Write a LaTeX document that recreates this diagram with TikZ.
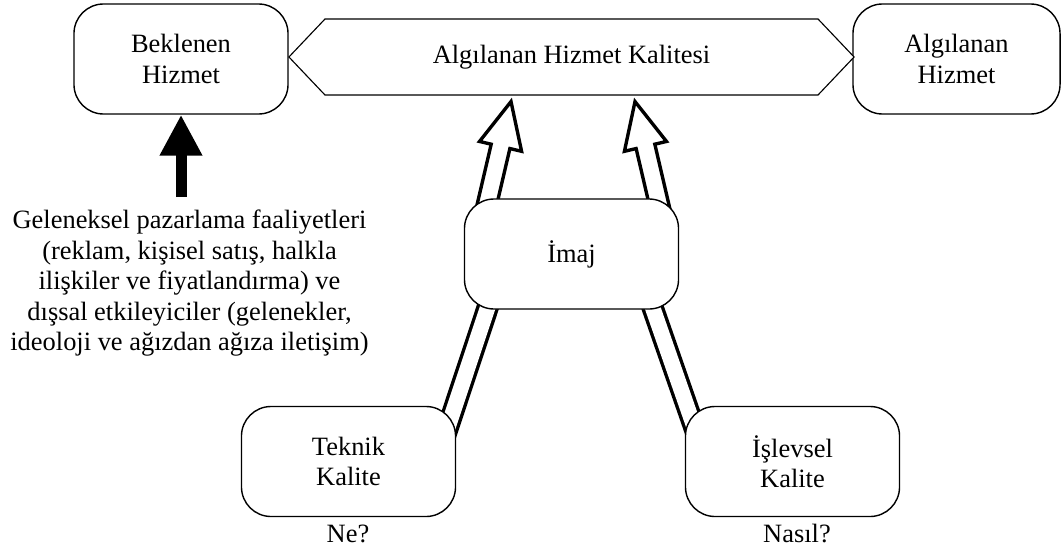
\documentclass[tikz,border=0pt]{standalone}
\usepackage{fontspec}
\setmainfont{Liberation Serif}
\usetikzlibrary{arrows.meta,calc,shapes.symbols,backgrounds}
\tikzset{
  qbox/.style={draw,line width=1pt,fill=white,rounded corners=.74cm,
    minimum width=5.35cm,minimum height=2.75cm,align=center,inner sep=0pt},
  hollow/.style={draw,fill=white,line width=2.4pt,line join=miter},
  twinline/.style={line width=2.4pt,double distance=11pt},
  bigarrow/.style={line width=.275cm,-{Triangle[length=1.025cm,width=1cm]}}
}
\newcommand{\HollowArrow}[2]{%
  \coordinate (HB) at ($(#2)!1.15cm!(#1)$);
  \path[hollow]
    ($(#1)!.24cm!90:(#2)$)--($(HB)!.24cm!90:(#2)$)
    --($(HB)!.54cm!90:(#2)$)--(#2)
    --($(HB)!.54cm!-90:(#2)$)--($(HB)!.24cm!-90:(#2)$)
    --($(#1)!.24cm!-90:(#2)$)--cycle;
}

\begin{document}
\begin{tikzpicture}[x=.025cm,y=-.025cm,
 font=\fontsize{18.8}{21.7}\selectfont]
\path[use as bounding box] (0,0) rectangle (1062,553);
\node[qbox] (exp) at (181,59) {Beklenen\\Hizmet};
\node[qbox,minimum width=5.175cm] (perc) at (956.5,59) {Algılanan\\Hizmet};
\node[signal,draw,line width=.8pt,fill=white,signal to=west and east,
 signal pointer angle=93,minimum width=14.125cm,minimum height=1.9cm,
 inner sep=0pt] (quality) at (571.5,57) {Algılanan Hizmet Kalitesi};
\node[qbox] (img) at (571.5,254) {İmaj};
\node[qbox] (tech) at (348.5,461.5) {Teknik\\Kalite};
\node[qbox] (func) at (792.5,461.5) {İşlevsel\\Kalite};
\node[inner sep=0pt] (what) at (348,534) {Ne?};
\node[inner sep=0pt] (how) at (797,534) {Nasıl?};
\node[align=center,inner sep=0pt] (trad) at (189.5,283.4)
 {Geleneksel pazarlama faaliyetleri\\(reklam, kişisel satış, halkla\\
  ilişkiler ve fiyatlandırma) ve\\dışsal etkileyiciler (gelenekler,\\
  ideoloji ve ağızdan ağıza iletişim)};
\coordinate (T) at (181,197);
\draw[bigarrow] (T) -- (exp.south);
% links run under the boxes
\begin{scope}[on background layer]
\draw[twinline] ($(tech.north east)+(-15.5,43)$) -- ($(img.south west)+(29.5,-19)$);
\draw[twinline] ($(func.north west)+(17,43)$) -- ($(img.south east)+(-32.5,-19)$);
\coordinate (LA) at ($(img.north)+(-91.5,36)$);
\coordinate (LB) at ($(quality.south)+(-60.5,6)$);
\coordinate (RA) at ($(img.north)+(94.5,36)$);
\coordinate (RB) at ($(quality.south)+(63.5,6)$);
\HollowArrow{LA}{LB}
\HollowArrow{RA}{RB}
\end{scope}
\end{tikzpicture}
\end{document}
